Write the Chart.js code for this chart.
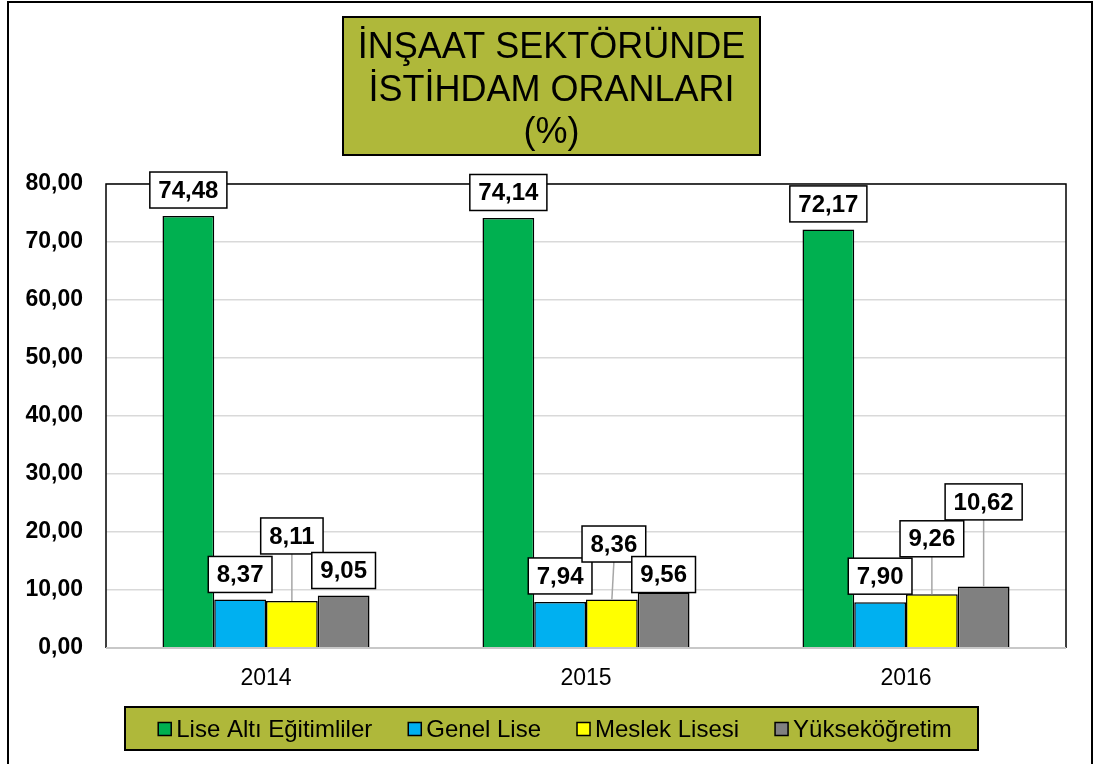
<!DOCTYPE html>
<html>
<head>
<meta charset="utf-8">
<script src="https://cdn.jsdelivr.net/npm/chart.js@4.4.1/dist/chart.umd.min.js"></script>
<style>
  html, body { margin: 0; padding: 0; background: #ffffff; }
  #wrap { width: 1094px; height: 764px; position: relative; }
</style>
</head>
<body>
<div id="wrap"><canvas id="c" width="1094" height="764"></canvas></div>
<script>
const categories = ['2014', '2015', '2016'];
const seriesNames = ['Lise Altı Eğitimliler', 'Genel Lise', 'Meslek Lisesi', 'Yükseköğretim'];
const liseAltiValues = [74.48, 74.14, 72.17];
const genelLiseValues = [8.37, 7.94, 7.90];
const meslekLisesiValues = [8.11, 8.36, 9.26];
const yuksekogretimValues = [9.05, 9.56, 10.62];
const yTickValues = [0, 10, 20, 30, 40, 50, 60, 70, 80];
const titleLines = ['İNŞAAT SEKTÖRÜNDE', 'İSTİHDAM ORANLARI', '(%)'];

const FONT = 'Arial, "Liberation Sans", "DejaVu Sans", sans-serif';
const OLIVE = '#AFB83A';
const seriesColors = ['#00B050', '#00B0F0', '#FFFF00', '#808080'];

function fmt(v) { return v.toFixed(2).replace('.', ','); }

// label placement: vertical offset (px) of label centre above bar top, per series per category
const labelStyle = {
  dy: [
    [-26, -25.5, -25.5],
    [-25, -26, -26],
    [-65, -55.5, -55.5],
    [-25, -18, -84.5]
  ],
  dx: [
    [0, 0, 0],
    [0, 0, 0],
    [0, 2, 0],
    [0, 0, 0]
  ]
};

const customPlugin = {
  id: 'custom',
  beforeDraw(chart) {
    const ctx = chart.ctx;
    ctx.save();
    ctx.fillStyle = '#ffffff';
    ctx.fillRect(0, 0, chart.width, chart.height);
    ctx.restore();
  },
  afterDraw(chart) {
    const ctx = chart.ctx;
    const a = chart.chartArea;
    ctx.save();
    // outer frame
    ctx.strokeStyle = '#000000';
    ctx.lineWidth = 2;
    ctx.strokeRect(8, 2, 1084, 800);

    // plot area border
    ctx.lineWidth = 1.5;
    ctx.strokeStyle = '#000000';
    ctx.beginPath();
    ctx.moveTo(a.left, a.bottom);
    ctx.lineTo(a.left, a.top);
    ctx.lineTo(a.right, a.top);
    ctx.lineTo(a.right, a.bottom);
    ctx.stroke();
    ctx.strokeStyle = '#c8c8c8';
    ctx.lineWidth = 2;
    ctx.beginPath();
    ctx.moveTo(a.left, a.bottom);
    ctx.lineTo(a.right, a.bottom);
    ctx.stroke();

    // data labels
    ctx.font = 'bold 24px ' + FONT;
    ctx.textAlign = 'center';
    ctx.textBaseline = 'middle';
    chart.data.datasets.forEach((ds, di) => {
      const meta = chart.getDatasetMeta(di);
      meta.data.forEach((bar, i) => {
        const txt = fmt(ds.data[i]);
        const tw = ctx.measureText(txt).width;
        const w = tw + 17, h = 36;
        const cx = bar.x + labelStyle.dx[di][i];
        const cy = bar.y + labelStyle.dy[di][i];
        const bottom = cy + h / 2;
        if (bar.y - bottom > 15) {
          ctx.strokeStyle = '#a6a6a6';
          ctx.lineWidth = 1.5;
          ctx.beginPath();
          ctx.moveTo(cx, bottom);
          ctx.lineTo(bar.x, bar.y);
          ctx.stroke();
        }
        ctx.fillStyle = '#ffffff';
        ctx.fillRect(cx - w / 2, cy - h / 2, w, h);
        ctx.strokeStyle = '#000000';
        ctx.lineWidth = 1.5;
        ctx.strokeRect(cx - w / 2, cy - h / 2, w, h);
        ctx.fillStyle = '#000000';
        ctx.fillText(txt, cx, cy + 1);
      });
    });

    // title box
    ctx.fillStyle = OLIVE;
    ctx.fillRect(343, 17, 417, 138);
    ctx.strokeStyle = '#000000';
    ctx.lineWidth = 2;
    ctx.strokeRect(343, 17, 417, 138);
    ctx.fillStyle = '#000000';
    ctx.font = '36px ' + FONT;
    ctx.textAlign = 'center';
    ctx.textBaseline = 'middle';
    const tcx = 551.5;
    const lineY = [48, 91, 133];
    titleLines.forEach((t, k) => ctx.fillText(t, tcx, lineY[k]));

    // legend box
    ctx.fillStyle = OLIVE;
    ctx.fillRect(125, 707, 853, 43);
    ctx.strokeStyle = '#000000';
    ctx.lineWidth = 2;
    ctx.strokeRect(125, 707, 853, 43);
    ctx.font = '24px ' + FONT;
    ctx.textAlign = 'left';
    ctx.textBaseline = 'middle';
    const box = 13, gapBT = 5, gapItems = 36;
    const items = chart.data.datasets.map((ds, di) => ({
      label: ds.label, color: ds.backgroundColor,
      w: box + gapBT + ctx.measureText(ds.label).width
    }));
    const total = items.reduce((s, it) => s + it.w, 0) + gapItems * (items.length - 1);
    let x = 555 - total / 2;
    const ly = 729;
    items.forEach(it => {
      ctx.fillStyle = it.color;
      ctx.fillRect(x, ly - box / 2, box, box);
      ctx.strokeStyle = '#000000';
      ctx.lineWidth = 1.5;
      ctx.strokeRect(x, ly - box / 2, box, box);
      ctx.fillStyle = '#000000';
      ctx.fillText(it.label, x + box + gapBT, ly + 1);
      x += it.w + gapItems;
    });
    ctx.restore();
  }
};

const valueSeries = [liseAltiValues, genelLiseValues, meslekLisesiValues, yuksekogretimValues];

new Chart(document.getElementById('c'), {
  type: 'bar',
  data: {
    labels: categories,
    datasets: seriesNames.map((name, i) => ({
      label: name,
      data: valueSeries[i],
      backgroundColor: seriesColors[i],
      borderColor: '#000000',
      borderWidth: 1.5,
      barPercentage: 1.0,
      categoryPercentage: 0.647
    }))
  },
  options: {
    responsive: false,
    animation: false,
    devicePixelRatio: 1,
    layout: { padding: { top: 184, right: 28, bottom: 0, left: 0 } },
    plugins: {
      legend: { display: false },
      title: { display: false },
      tooltip: { enabled: false }
    },
    scales: {
      x: {
        grid: { display: false, drawTicks: false },
        border: { display: false },
        ticks: { color: '#000000', font: { family: FONT, size: 23 }, padding: 17 },
        afterFit(s) { s.height = 116; }
      },
      y: {
        min: 0, max: 80,
        afterBuildTicks(s) { s.ticks = yTickValues.map(v => ({ value: v })); },
        grid: { color: '#d9d9d9', lineWidth: 1.5, drawTicks: false },
        border: { display: false },
        ticks: {
          color: '#000000',
          font: { family: FONT, size: 23, weight: 'bold' },
          padding: 23,
          callback: v => fmt(v)
        },
        afterFit(s) { s.width = 106; }
      }
    }
  },
  plugins: [customPlugin]
});
</script>
</body>
</html>
